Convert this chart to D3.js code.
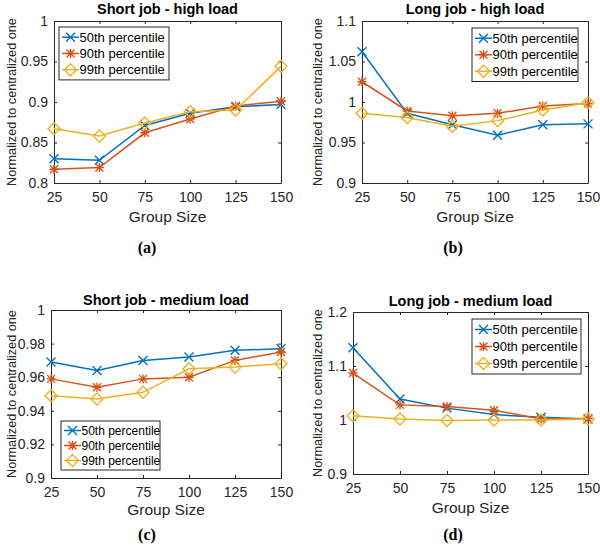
<!DOCTYPE html>
<html>
<head>
<meta charset="utf-8">
<script src="https://cdn.jsdelivr.net/npm/d3@7"></script>
<style>
  body { margin: 0; background: #fff; }
  svg { display: block; }
</style>
</head>
<body>
<div id="chart"></div>
<script>
// data
const groupSizes = [25, 50, 75, 100, 125, 150];
const seriesNames = ["50th percentile", "90th percentile", "99th percentile"];

const shortHigh50 = [0.830, 0.828, 0.871, 0.886, 0.894, 0.897];
const shortHigh90 = [0.817, 0.819, 0.862, 0.879, 0.895, 0.901];
const shortHigh99 = [0.867, 0.858, 0.874, 0.888, 0.890, 0.944];

const longHigh50 = [1.062, 0.986, 0.972, 0.959, 0.972, 0.973];
const longHigh90 = [1.025, 0.989, 0.983, 0.986, 0.995, 0.998];
const longHigh99 = [0.986, 0.981, 0.970, 0.977, 0.990, 0.999];

const shortMed50 = [0.969, 0.964, 0.970, 0.972, 0.976, 0.977];
const shortMed90 = [0.959, 0.954, 0.959, 0.960, 0.970, 0.975];
const shortMed99 = [0.949, 0.947, 0.951, 0.965, 0.966, 0.968];

const longMed50 = [1.134, 1.039, 1.022, 1.010, 1.005, 1.002];
const longMed90 = [1.087, 1.028, 1.025, 1.018, 1.002, 1.003];
const longMed99 = [1.008, 1.002, 0.999, 1.000, 1.000, 1.002];

const titles = ["Short job - high load", "Long job - high load", "Short job - medium load", "Long job - medium load"];
const captions = ["(a)", "(b)", "(c)", "(d)"];
const yTicksA = [0.8, 0.85, 0.9, 0.95, 1];
const yTicksB = [0.9, 0.95, 1, 1.05, 1.1];
const yTicksC = [0.9, 0.92, 0.94, 0.96, 0.98, 1];
const yTicksD = [0.9, 1, 1.1, 1.2];

const colors = ["#0072BD", "#D95319", "#EDB120"];
const markers = ["x", "star", "diamond"];
const axisColor = "#262626";
const font = "'Liberation Sans', Arial, Helvetica, sans-serif";

// layout of each panel (pixel boxes)
const panels = [
  { box: [54, 21, 281, 183], series: [shortHigh50, shortHigh90, shortHigh99], ticks: yTicksA,
    legend: { x: 59, y: 27, w: 110, rowH: 16.3, fs: 13 }, ylab: 12, xlabY: 222, titleY: 14, capY: 253 },
  { box: [362, 21, 588, 183], series: [longHigh50, longHigh90, longHigh99], ticks: yTicksB,
    legend: { x: 472, y: 28, w: 106, rowH: 16.5, fs: 13 }, ylab: 318, xlabY: 222, titleY: 14, capY: 253 },
  { box: [51, 310, 281, 478], series: [shortMed50, shortMed90, shortMed99], ticks: yTicksC,
    legend: { x: 61, y: 421, w: 99, rowH: 15, fs: 12 }, ylab: 12, xlabY: 515, titleY: 305, capY: 540 },
  { box: [353, 312, 588, 474], series: [longMed50, longMed90, longMed99], ticks: yTicksD,
    legend: { x: 472, y: 319, w: 109, rowH: 17, fs: 13 }, ylab: 318, xlabY: 513, titleY: 306, capY: 540 }
];

const svg = d3.select("#chart").append("svg")
  .attr("width", 600)
  .attr("height", 556);

function drawMarker(g, type, color) {
  const s = 4.5;
  if (type === "x") {
    g.append("path").attr("d", `M${-s},${-s}L${s},${s}M${-s},${s}L${s},${-s}`)
      .attr("stroke", color).attr("stroke-width", 1.4).attr("fill", "none");
  } else if (type === "star") {
    const d = 4;
    g.append("path").attr("d", `M${-s},0L${s},0M0,${-s}L0,${s}M${-d},${-d}L${d},${d}M${-d},${d}L${d},${-d}`)
      .attr("stroke", color).attr("stroke-width", 1.4).attr("fill", "none");
  } else {
    const r = 6;
    g.append("path").attr("d", `M0,${-r}L${r},0L0,${r}L${-r},0Z`)
      .attr("stroke", color).attr("stroke-width", 1.4).attr("fill", "none");
  }
}

function fmt(v) {
  return String(+v.toFixed(2));
}

panels.forEach((p, i) => {
  const [x0, y0, x1, y1] = p.box;
  const x = d3.scaleLinear().domain([25, 150]).range([x0, x1]);
  const y = d3.scaleLinear().domain(d3.extent(p.ticks)).range([y1, y0]);
  const g = svg.append("g");

  // white plot area
  g.append("rect").attr("x", x0).attr("y", y0).attr("width", x1 - x0).attr("height", y1 - y0)
    .attr("fill", "#fff");

  // axes, MATLAB style: ticks pointing in
  const xAxis = g.append("g").attr("transform", `translate(0,${y1})`)
    .call(d3.axisBottom(x).tickValues(groupSizes).tickSizeInner(-3).tickSizeOuter(0).tickPadding(6));
  const yAxis = g.append("g").attr("transform", `translate(${x0},0)`)
    .call(d3.axisLeft(y).tickValues(p.ticks).tickFormat(fmt).tickSizeInner(-3).tickSizeOuter(0).tickPadding(6));
  g.append("g").attr("transform", `translate(0,${y0})`)
    .call(d3.axisTop(x).tickValues(groupSizes).tickSizeInner(-3).tickSizeOuter(0).tickFormat(""));
  g.append("g").attr("transform", `translate(${x1},0)`)
    .call(d3.axisRight(y).tickValues(p.ticks).tickSizeInner(-3).tickSizeOuter(0).tickFormat(""));

  g.selectAll(".domain").attr("stroke", axisColor).attr("stroke-width", 1);
  g.selectAll(".tick line").attr("stroke", axisColor);
  xAxis.selectAll("text").attr("font-family", font).attr("font-size", 14).attr("fill", axisColor)
    .attr("dy", "0.9em");
  yAxis.selectAll("text").attr("font-family", font).attr("font-size", 14).attr("fill", axisColor);

  // series lines and markers
  p.series.forEach((vals, k) => {
    const pts = groupSizes.map((gs, j) => [x(gs), y(vals[j])]);
    g.append("path").attr("d", d3.line()(pts))
      .attr("fill", "none").attr("stroke", colors[k]).attr("stroke-width", 1.5);
    pts.forEach(pt => {
      const m = g.append("g").attr("transform", `translate(${pt[0]},${pt[1]})`);
      drawMarker(m, markers[k], colors[k]);
    });
  });

  // legend
  const L = p.legend;
  const lg = g.append("g");
  lg.append("rect").attr("x", L.x).attr("y", L.y).attr("width", L.w).attr("height", L.rowH * 3 + 4)
    .attr("fill", "#fff").attr("stroke", axisColor).attr("stroke-width", 1);
  seriesNames.forEach((name, k) => {
    const cy = L.y + 2 + L.rowH * (k + 0.5);
    lg.append("line").attr("x1", L.x + 3).attr("x2", L.x + 20).attr("y1", cy).attr("y2", cy)
      .attr("stroke", colors[k]).attr("stroke-width", 1.5);
    const m = lg.append("g").attr("transform", `translate(${L.x + 11.5},${cy})`);
    drawMarker(m, markers[k], colors[k]);
    lg.append("text").attr("x", L.x + 20.5).attr("y", cy).attr("dy", "0.35em")
      .attr("font-family", font).attr("font-size", L.fs).attr("fill", "#000").text(name);
  });

  // title
  g.append("text").attr("x", (x0 + x1) / 2).attr("y", p.titleY).attr("text-anchor", "middle")
    .attr("font-family", font).attr("font-size", 14.5).attr("font-weight", "bold").attr("fill", "#000")
    .text(titles[i]);

  // axis labels
  g.append("text").attr("x", (x0 + x1) / 2).attr("y", p.xlabY).attr("text-anchor", "middle")
    .attr("font-family", font).attr("font-size", 15.5).attr("fill", axisColor).text("Group Size");
  g.append("text").attr("transform", `translate(${p.ylab + 4},${(y0 + y1) / 2}) rotate(-90)`)
    .attr("text-anchor", "middle")
    .attr("font-family", font).attr("font-size", 12.7).attr("fill", axisColor)
    .text("Normalized to centralized one");

  // caption
  g.append("text").attr("x", i % 2 === 0 ? 147 : 453).attr("y", p.capY).attr("text-anchor", "middle")
    .attr("font-family", "'Liberation Serif', 'Times New Roman', serif").attr("font-size", 16)
    .attr("font-weight", "bold").attr("fill", "#000").text(captions[i]);
});
</script>
</body>
</html>
